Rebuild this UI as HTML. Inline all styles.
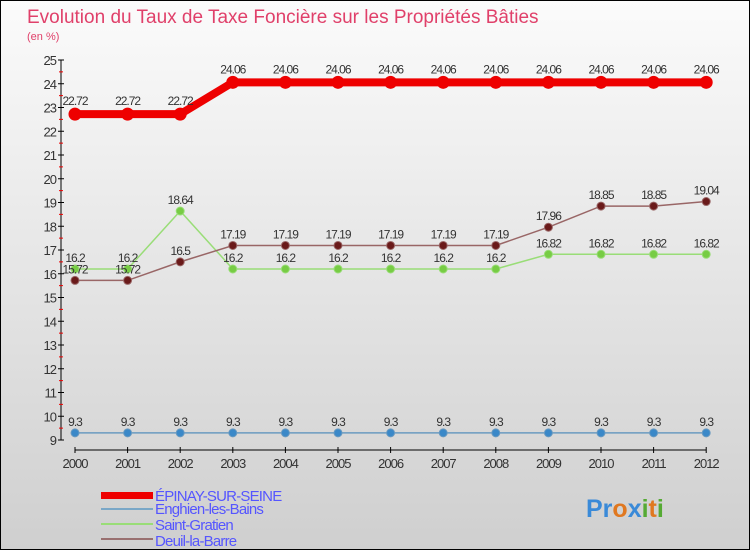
<!DOCTYPE html>
<html><head><meta charset="utf-8"><style>
body{margin:0;width:750px;height:550px;overflow:hidden;font-family:"Liberation Sans",sans-serif}
#c{position:absolute;left:0;top:0;width:748px;height:548px;border:1px solid #000;background:linear-gradient(#fbfbfb,#cfcfcf)}
</style></head><body>
<div id="c">
<svg id="s" width="748" height="548">
<text x="26" y="22" font-size="19" fill="#e0406a">Evolution du Taux de Taxe Foncière sur les Propriétés Bâties</text>
<text x="26" y="39" font-size="11" fill="#e0406a">(en %)</text>
<g id="g"></g>
<rect x="100" y="491" width="52" height="7" fill="#e00"/>
<rect x="100" y="507" width="52" height="2" fill="#7aa7c7"/>
<rect x="100" y="522" width="52" height="2" fill="#99dd77"/>
<rect x="100" y="537" width="52" height="2" fill="#997070"/>
<g font-size="15" fill="#5555ff" letter-spacing="-0.8">
<text x="154" y="500">ÉPINAY-SUR-SEINE</text>
<text x="154" y="513">Enghien-les-Bains</text>
<text x="154" y="529">Saint-Gratien</text>
<text x="154" y="545">Deuil-la-Barre</text>
</g>
<text x="585" y="516" font-size="25" font-weight="bold"><tspan fill="#3a8ad8">Pr</tspan><tspan fill="#e07820">o</tspan><tspan fill="#3a8ad8">x</tspan><tspan fill="#55aa33">i</tspan><tspan fill="#e07820">t</tspan><tspan fill="#55aa33">i</tspan></text>
</svg></div>
<script>
const years=[2000,2001,2002,2003,2004,2005,2006,2007,2008,2009,2010,2011,2012];
const epinay=[22.72,22.72,22.72,24.06,24.06,24.06,24.06,24.06,24.06,24.06,24.06,24.06,24.06];
const enghien=[9.3,9.3,9.3,9.3,9.3,9.3,9.3,9.3,9.3,9.3,9.3,9.3,9.3];
const saintGratien=[16.2,16.2,18.64,16.2,16.2,16.2,16.2,16.2,16.2,16.82,16.82,16.82,16.82];
const deuil=[15.72,15.72,16.5,17.19,17.19,17.19,17.19,17.19,17.19,17.96,18.85,18.85,19.04];
const yTicks=[9,10,11,12,13,14,15,16,17,18,19,20,21,22,23,24,25];
const NS="http://www.w3.org/2000/svg",g=document.getElementById('g');
const X=i=>74+i*52.6, Y=v=>59+(25-v)*23.75;
function mk(t,a,p){const e=document.createElementNS(NS,t);for(const k in a)e.setAttribute(k,a[k]);(p||g).appendChild(e);return e;}
let ax=mk('line',{x1:60,y1:Y(25),x2:60,y2:Y(9),stroke:'#000'});

yTicks.forEach(v=>{mk('line',{x1:57,x2:63,y1:Y(v),y2:Y(v),stroke:'#000'});
 if(v<25)mk('line',{x1:58,x2:62,y1:Y(v+0.5),y2:Y(v+0.5),stroke:'#e00'});
 const t=mk('text',{x:55,y:Y(v)+5,'font-size':13,fill:'#333','text-anchor':'end','letter-spacing':'-1'});t.textContent=v;
 });
let xa=mk('line',{x1:X(0),y1:449,x2:X(12),y2:449,stroke:'#000'});

years.forEach((y,i)=>{mk('line',{x1:X(i),x2:X(i),y1:446,y2:452,stroke:'#000'});
 const t=mk('text',{x:X(i),y:467,'font-size':13,fill:'#333','text-anchor':'middle','letter-spacing':'-1'});t.textContent=y;
 });
function series(d,name,col,dot,w,r,lab){
 const l=mk('polyline',{points:d.map((v,i)=>X(i)+','+Y(v)).join(' '),fill:'none',stroke:col,'stroke-width':w});
 
 d.forEach((v,i)=>{const c=mk('circle',{cx:X(i),cy:Y(v),r:r,fill:dot,stroke:col,'stroke-width':1});
  
  const t=mk('text',{x:X(i),y:Y(v)-lab,'font-size':12,fill:'#333','text-anchor':'middle','letter-spacing':'-1'});t.textContent=v;
  });
}
series(enghien,'enghien','#6a9ac0','#3a88c8',1.5,4,7);
series(saintGratien,'saint-gratien','#99dd77','#77cc44',1.5,4,7);
series(deuil,'deuil','#996666','#6a1a1a',1.5,4,7);
series(epinay,'epinay','#ee0000','#ee0000',8,6,9);
</script></body></html>
